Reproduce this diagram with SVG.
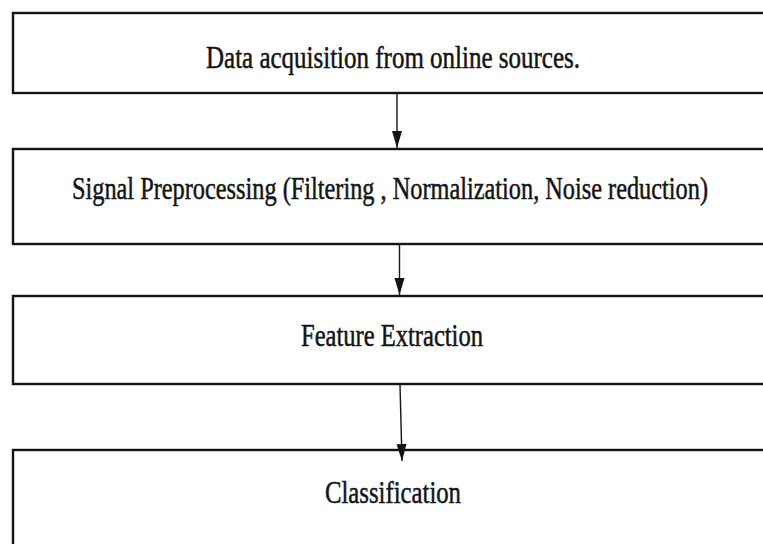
<svg xmlns="http://www.w3.org/2000/svg" width="763" height="544" viewBox="0 0 763 544">
  <style>
    .box { fill: #ffffff; stroke: #141414; stroke-width: 2.4; }
    .label { font-family: "Liberation Serif", "DejaVu Serif", serif; font-size: 31px; fill: #141414; stroke: #141414; stroke-width: 0.5; }
    .conn { stroke: #141414; stroke-width: 1.4; fill: none; marker-end: url(#arrow); }
  </style>
  <defs>
    <!-- filled arrowhead, tip at the line end -->
    <marker id="arrow" markerUnits="userSpaceOnUse" markerWidth="18" markerHeight="11" refX="17" refY="5.5" orient="auto" viewBox="0 0 18 11">
      <path d="M0,0.5 L17,5.5 L0,10.5 Z" fill="#141414"/>
    </marker>
  </defs>
  <rect width="763" height="544" fill="#ffffff"/>

  <!-- labels are set in a narrowed serif: x and lengths are given in the 0.75-wide frame -->
  <g id="node-acquisition">
    <rect class="box" x="13" y="13" width="790" height="80"/>
    <text class="label" transform="scale(0.75 1)" x="274.67" y="68" textLength="498.67" lengthAdjust="spacingAndGlyphs">Data acquisition from online sources.</text>
  </g>

  <g id="node-preprocessing">
    <rect class="box" x="13" y="149" width="790" height="95"/>
    <text class="label" transform="scale(0.75 1)" x="96" y="199" textLength="848" lengthAdjust="spacingAndGlyphs">Signal Preprocessing (Filtering , Normalization, Noise reduction)</text>
  </g>

  <g id="node-features">
    <rect class="box" x="13" y="296" width="790" height="88"/>
    <text class="label" transform="scale(0.75 1)" x="401.33" y="346" textLength="242.67" lengthAdjust="spacingAndGlyphs">Feature Extraction</text>
  </g>

  <g id="node-classification">
    <rect class="box" x="13" y="450" width="790" height="120"/>
    <text class="label" transform="scale(0.75 1)" x="433.33" y="503" textLength="181.33" lengthAdjust="spacingAndGlyphs">Classification</text>
  </g>

  <g id="connectors">
    <line class="conn" x1="397" y1="94" x2="397" y2="148"/>
    <line class="conn" x1="399.5" y1="245" x2="399.5" y2="295"/>
    <line class="conn" x1="400" y1="385" x2="402" y2="461"/>
  </g>
</svg>
